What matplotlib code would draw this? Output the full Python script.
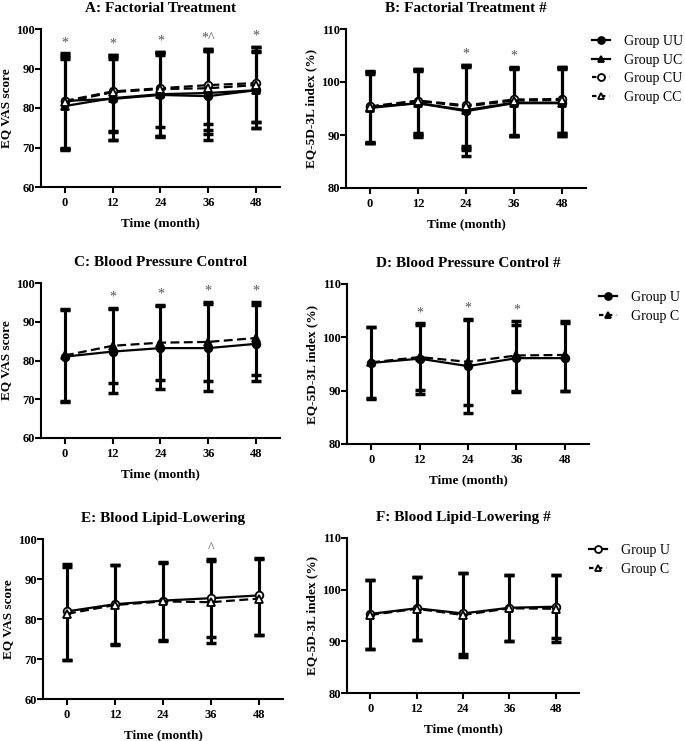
import numpy as np
import matplotlib
matplotlib.use('Agg')
import matplotlib.pyplot as plt
from matplotlib.lines import Line2D

plt.rcParams['font.family'] = ['Liberation Serif', 'DejaVu Serif']

months = [0, 12, 24, 36, 48]

# A: factorial treatment, EQ VAS
a_uu = [81.8, 82.3, 83.3, 83.0, 84.5]
a_uc = [80.5, 82.5, 83.5, 83.8, 84.5]
a_cu = [81.8, 84.2, 85.0, 85.8, 86.3]
a_cc = [81.5, 84.0, 84.8, 85.0, 85.8]
a_uu_lo = [69.5, 71.8, 72.7, 72.0, 75.0]
a_uu_hi = [93.5, 93.5, 94.2, 94.5, 94.2]
a_uc_lo = [69.3, 74.0, 73.0, 73.5, 76.5]
a_uc_hi = [92.5, 92.5, 93.5, 95.0, 95.5]
a_cu_lo = [69.8, 74.2, 75.3, 76.0, 76.5]
a_cu_hi = [93.8, 93.5, 94.3, 95.0, 95.5]
a_cc_lo = [69.5, 72.0, 73.0, 74.5, 75.0]
a_cc_hi = [93.0, 93.0, 94.0, 94.5, 94.5]
a_marks = ['*', '*', '*', '*^', '*']

# B: factorial treatment, EQ-5D-3L index
b_uu = [95.3, 96.0, 94.5, 96.0, 96.0]
b_uc = [95.1, 96.0, 94.7, 96.1, 96.1]
b_cu = [95.4, 96.5, 95.6, 96.7, 96.8]
b_cc = [95.3, 96.4, 95.4, 96.5, 96.6]
b_uu_lo = [88.5, 89.7, 86.0, 89.9, 89.8]
b_uu_hi = [101.8, 102.3, 103.0, 102.6, 102.6]
b_uc_lo = [88.5, 90.2, 87.2, 89.9, 90.4]
b_uc_hi = [101.6, 102.0, 102.8, 102.5, 102.5]
b_cu_lo = [88.6, 90.3, 88.0, 90.0, 90.4]
b_cu_hi = [102.0, 102.5, 103.3, 102.8, 102.8]
b_cc_lo = [88.5, 89.8, 87.5, 89.9, 89.8]
b_cc_hi = [101.9, 102.4, 103.2, 102.7, 102.8]
b_marks = ['', '', '*', '*', '']

# C: blood pressure control, EQ VAS
c_u = [81.0, 82.3, 83.2, 83.2, 84.3]
c_c = [81.3, 83.8, 84.6, 84.8, 85.8]
c_u_lo = [69.3, 71.7, 72.7, 72.2, 74.8]
c_u_hi = [93.0, 93.2, 94.0, 94.5, 94.2]
c_c_lo = [69.5, 74.1, 75.0, 74.8, 76.2]
c_c_hi = [93.2, 93.5, 94.3, 95.1, 95.2]
c_marks = ['', '*', '*', '*', '*']

# D: blood pressure control, EQ-5D-3L index
d_u = [95.2, 96.0, 94.6, 96.1, 96.1]
d_c = [95.3, 96.3, 95.4, 96.6, 96.7]
d_u_lo = [88.5, 89.4, 85.9, 89.8, 89.9]
d_u_hi = [102.0, 102.4, 103.2, 102.4, 102.6]
d_c_lo = [88.6, 90.2, 87.3, 89.9, 90.0]
d_c_hi = [101.9, 102.6, 103.4, 103.1, 103.0]
d_marks = ['', '*', '*', '*', '']

# E: blood lipid-lowering, EQ VAS
e_u = [81.9, 83.7, 84.6, 85.2, 85.9]
e_c = [81.3, 83.5, 84.4, 84.2, 85.1]
e_u_lo = [69.8, 73.7, 74.7, 75.4, 76.1]
e_u_hi = [93.8, 93.6, 94.3, 95.0, 95.2]
e_c_lo = [69.7, 73.6, 74.6, 73.9, 76.0]
e_c_hi = [93.0, 93.4, 94.1, 94.6, 95.0]
e_marks = ['', '', '', '^', '']

# F: blood lipid-lowering, EQ-5D-3L index
f_u = [95.3, 96.4, 95.4, 96.5, 96.7]
f_c = [95.1, 96.3, 95.1, 96.4, 96.3]
f_u_lo = [88.5, 90.2, 87.6, 90.0, 90.6]
f_u_hi = [101.9, 102.5, 103.3, 102.9, 102.8]
f_c_lo = [88.6, 90.2, 87.0, 90.0, 89.8]
f_c_hi = [101.8, 102.4, 103.2, 102.8, 102.8]

vas_ticks = [60, 70, 80, 90, 100]
eq_ticks = [80, 90, 100, 110]

# style per series: (marker, filled, linestyle)
styles = {
    'UU': ('o', True, '-'),
    'UC': ('^', True, '-'),
    'CU': ('o', False, '--'),
    'CC': ('^', False, '--'),
}


def draw(ax, series, marks, title, ylabel, yticks):
    for mean, lo, hi, (mk, filled, ls) in series:
        mean = np.array(mean)
        yerr = [mean - np.array(lo), np.array(hi) - mean]
        ax.errorbar(months, mean, yerr=yerr, fmt='none', ecolor='black',
                    elinewidth=2.2, capsize=3.5, capthick=2.5, zorder=2)
    for mean, lo, hi, (mk, filled, ls) in series:
        ax.plot(months, mean, color='black', linestyle=ls, linewidth=1.6,
                marker=mk, markersize=5.5,
                markerfacecolor='black' if filled else 'white',
                markeredgecolor='black', markeredgewidth=1.3, zorder=3,
                dashes=(4, 2) if ls == '--' else (None, None))
    tops = np.max([s[2] for s in series], axis=0)
    for x, t, m in zip(months, tops, marks):
        if m:
            ax.annotate(m, (x, t), xytext=(0, 3), textcoords='offset points',
                        ha='center', va='bottom', fontsize=10, color='#555555')
    ax.set_xlim(-6, 54)
    ax.set_ylim(yticks[0], yticks[-1])
    ax.set_xticks(months)
    ax.set_yticks(yticks)
    ax.set_title(title, fontsize=11, fontweight='bold', pad=12)
    ax.set_ylabel(ylabel, fontsize=9.5, fontweight='bold', labelpad=3)
    ax.set_xlabel('Time (month)', fontsize=9.5, fontweight='bold', labelpad=6)
    for s in ['top', 'right']:
        ax.spines[s].set_visible(False)
    for s in ['left', 'bottom']:
        ax.spines[s].set_linewidth(1.5)
    ax.tick_params(width=1.5, length=4, labelsize=9, pad=3)
    ax.tick_params(axis='y', pad=0.5)
    for lab in ax.get_xticklabels() + ax.get_yticklabels():
        lab.set_fontweight('bold')


fig = plt.figure(figsize=(6.85, 7.41), dpi=100)
W, H = 685, 741


def axes_px(l, t, r, b):
    return fig.add_axes([l / W, 1 - b / H, (r - l) / W, (b - t) / H])


axA = axes_px(41, 29, 280, 187)
axB = axes_px(346, 29, 586, 188)
axC = axes_px(41, 283, 280, 438)
axD = axes_px(347, 284, 589, 444)
axE = axes_px(43, 539, 283, 699)
axF = axes_px(347, 538, 579, 693)

draw(axA, [(a_uu, a_uu_lo, a_uu_hi, styles['UU']),
           (a_uc, a_uc_lo, a_uc_hi, styles['UC']),
           (a_cu, a_cu_lo, a_cu_hi, styles['CU']),
           (a_cc, a_cc_lo, a_cc_hi, styles['CC'])],
     a_marks, 'A: Factorial Treatment', 'EQ VAS score', vas_ticks)
draw(axB, [(b_uu, b_uu_lo, b_uu_hi, styles['UU']),
           (b_uc, b_uc_lo, b_uc_hi, styles['UC']),
           (b_cu, b_cu_lo, b_cu_hi, styles['CU']),
           (b_cc, b_cc_lo, b_cc_hi, styles['CC'])],
     b_marks, 'B: Factorial Treatment #', 'EQ-5D-3L index (%)', eq_ticks)
draw(axC, [(c_u, c_u_lo, c_u_hi, ('o', True, '-')),
           (c_c, c_c_lo, c_c_hi, ('^', True, '--'))],
     c_marks, 'C: Blood Pressure Control', 'EQ VAS score', vas_ticks)
draw(axD, [(d_u, d_u_lo, d_u_hi, ('o', True, '-')),
           (d_c, d_c_lo, d_c_hi, ('^', True, '--'))],
     d_marks, 'D: Blood Pressure Control #', 'EQ-5D-3L index (%)', eq_ticks)
draw(axE, [(e_u, e_u_lo, e_u_hi, ('o', False, '-')),
           (e_c, e_c_lo, e_c_hi, ('^', False, '--'))],
     e_marks, 'E: Blood Lipid-Lowering', 'EQ VAS score', vas_ticks)
draw(axF, [(f_u, f_u_lo, f_u_hi, ('o', False, '-')),
           (f_c, f_c_lo, f_c_hi, ('^', False, '--'))],
     ['', '', '', '', ''], 'F: Blood Lipid-Lowering #', 'EQ-5D-3L index (%)', eq_ticks)


def handle(mk, filled, ls):
    return Line2D([], [], color='black', linestyle=ls, linewidth=1.6, marker=mk,
                  markersize=5, markerfacecolor='black' if filled else 'white',
                  markeredgecolor='black', markeredgewidth=1.3,
                  dashes=(2, 2) if ls == '--' else (None, None))


def legend(handles, labels, x, y):
    fig.legend(handles, labels, loc='upper left', bbox_to_anchor=(x / W, 1 - y / H),
               frameon=False, fontsize=10, handlelength=1.3, handletextpad=1.0,
               labelspacing=0.4, borderpad=0, borderaxespad=0)


legend([handle(*styles[k]) for k in ['UU', 'UC', 'CU', 'CC']],
       ['Group UU', 'Group UC', 'Group CU', 'Group CC'], 592, 35)
legend([handle('o', True, '-'), handle('^', True, '--')],
       ['Group U', 'Group C'], 599, 291)
legend([handle('o', False, '-'), handle('^', False, '--')],
       ['Group U', 'Group C'], 589, 544)

fig.savefig('out.png', dpi=100)
